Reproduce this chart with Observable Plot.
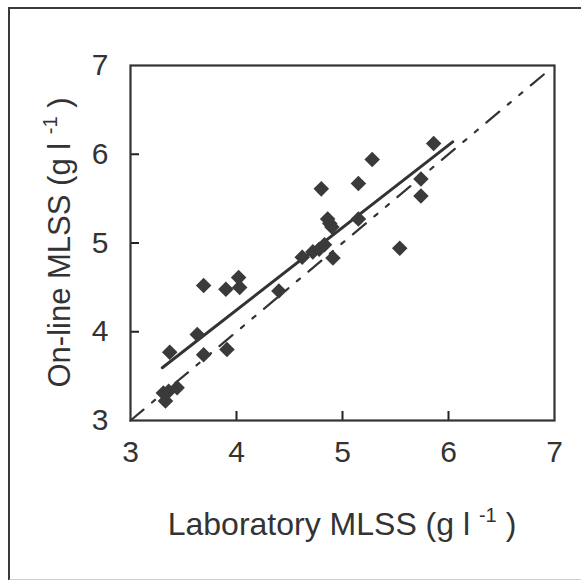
<!DOCTYPE html>
<html>
<head>
<meta charset="utf-8">
<script src="https://cdn.jsdelivr.net/npm/d3@7"></script>
<script src="https://cdn.jsdelivr.net/npm/@observablehq/plot@0.6"></script>
<style>
  html, body { margin: 0; padding: 0; background: #fff; overflow: hidden; }
  #wrap { position: relative; width: 581px; height: 580px; }
  #border { position: absolute; left: 8px; top: 7px; width: 620px; height: 570px;
            border: 2.5px solid #3a3a3a; border-bottom-color: #cfcfcf; pointer-events: none; }
</style>
</head>
<body>
<div id="wrap"><div id="border"></div></div>
<script>
// Laboratory MLSS (x) vs on-line MLSS (y), g/l
const labMLSS = [3.37, 3.63, 3.69, 3.91, 3.69, 3.90, 4.02, 4.03, 4.40, 4.62, 4.72, 4.78, 4.83, 4.91,
                 4.80, 4.86, 4.88, 4.90, 5.15, 5.15, 5.28, 5.54, 5.74, 5.74, 5.86, 3.31, 3.44, 3.33, 3.36];
const onlineMLSS = [3.77, 3.97, 3.74, 3.80, 4.52, 4.48, 4.61, 4.50, 4.46, 4.84, 4.90, 4.93, 4.98, 4.83,
                    5.61, 5.27, 5.22, 5.18, 5.27, 5.67, 5.94, 4.94, 5.72, 5.53, 6.12, 3.31, 3.37, 3.22, 3.33];
// regression line end points
const fitX = [3.30, 6.04];
const fitY = [3.595, 6.14];
// 1:1 line end points
const unityX = [3.0, 6.93];
const unityY = [3.0, 6.93];
const xTicks = [3, 4, 5, 6, 7];
const yTicks = [3, 4, 5, 6, 7];
const xTitle = "Laboratory MLSS (g l";
const yTitle = "On-line MLSS (g l";
const unitSup = "-1";

const points = labMLSS.map((x, i) => ({x, y: onlineMLSS[i]}));
const fit = fitX.map((x, i) => ({x, y: fitY[i]}));
const unity = unityX.map((x, i) => ({x, y: unityY[i]}));

const ink = "#333";
const tickLen = 9;

const chart = Plot.plot({
  width: 581,
  height: 580,
  marginLeft: 130,
  marginRight: 27,
  marginTop: 65,
  marginBottom: 160,
  x: {domain: [3, 7]},
  y: {domain: [3, 7]},
  style: {fontFamily: "'Liberation Sans', Arial, sans-serif", fontSize: "30px", color: ink, background: "transparent"},
  marks: [
    // tick labels (no outward ticks)
    Plot.axisX(xTicks, {tickSize: 0, tickPadding: 20, tickFormat: d3.format("d"), label: null, fontSize: 30}),
    Plot.axisY(yTicks, {tickSize: 0, tickPadding: 22, tickFormat: d3.format("d"), label: null, fontSize: 30}),
    // inward tick marks: an axis anchored on the opposite side, pointing into the frame
    Plot.axisX(xTicks.slice(1, -1), {anchor: "bottom", tickSize: tickLen, dy: -tickLen, text: null,
      label: null, stroke: "#222", strokeWidth: 2}),
    Plot.axisY(yTicks.slice(1, -1), {anchor: "left", tickSize: tickLen, dx: tickLen, text: null,
      label: null, stroke: "#222", strokeWidth: 2}),
    Plot.line(unity, {x: "x", y: "y", stroke: ink, strokeWidth: 2.2, strokeDasharray: "17,11,4,11,4,11"}),
    Plot.line(fit, {x: "x", y: "y", stroke: ink, strokeWidth: 3}),
    Plot.dot(points, {x: "x", y: "y", symbol: "diamond2", r: 7, fill: "#3a3a3a", stroke: "none"}),
    Plot.frame({stroke: ink, strokeWidth: 2.2})
  ]
});

const svg = d3.select(chart);
const xs = chart.scale("x"), ys = chart.scale("y");
const cx = (xs.range[0] + xs.range[1]) / 2;
const cy = (ys.range[0] + ys.range[1]) / 2;

function addTitle(sel, base) {
  sel.append("tspan").text(base + " ");
  sel.append("tspan").attr("font-size", "20px").attr("dy", "-13").text(unitSup);
  sel.append("tspan").attr("dy", "13").text(" )");
}
const tx = svg.append("text")
  .attr("x", cx).attr("y", 535)
  .attr("text-anchor", "middle")
  .attr("font-size", "32px").attr("fill", ink)
  .attr("font-family", "'Liberation Sans', Arial, sans-serif");
addTitle(tx, xTitle);

const ty = svg.append("text")
  .attr("transform", `translate(70,${cy}) rotate(-90)`)
  .attr("text-anchor", "middle")
  .attr("font-size", "31px").attr("fill", ink)
  .attr("font-family", "'Liberation Sans', Arial, sans-serif");
addTitle(ty, yTitle);

document.getElementById("wrap").prepend(chart);
</script>
</body>
</html>
